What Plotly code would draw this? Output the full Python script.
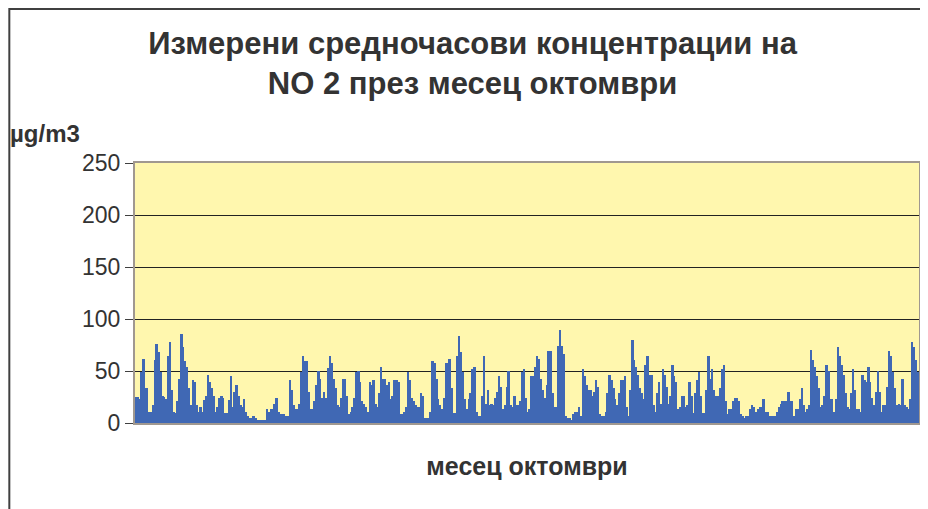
import plotly.graph_objects as go

# hourly NO2 readings in 8 chunks (left to right)
part1 = [25, 25, 23, 49, 62, 34, 34, 11, 11, 17, 61, 76, 68, 49, 26, 25, 23, 64, 78, 32,
         11, 10, 21, 42, 86, 73, 60, 54, 34, 17, 41, 39, 17, 11, 15, 11, 22, 26, 46, 39,
         34, 26, 11, 15, 24, 26, 24, 10, 10, 22, 45]
part2 = [15, 30, 37, 26, 17, 15, 23, 11, 7, 5, 5, 7, 5, 3, 3, 3, 3, 3, 13, 11,
         13, 13, 18, 24, 11, 9, 9, 9, 7, 7, 41, 32, 17, 13, 13, 18, 49, 64, 60, 60,
         30, 13, 13, 21, 37, 50, 42, 24, 30, 24, 53]
part3 = [64, 58, 42, 34, 17, 15, 24, 42, 42, 26, 9, 11, 15, 24, 49, 50, 39, 21, 18, 15,
         11, 39, 37, 41, 18, 15, 29, 54, 42, 42, 37, 39, 23, 26, 41, 41, 39, 9, 9, 11,
         15, 49, 41, 24, 21, 17, 15, 15, 29, 26, 5, 5, 5, 11]
part4 = [60, 58, 42, 23, 17, 13, 24, 58, 58, 62, 34, 10, 10, 64, 84, 68, 49, 23, 13, 23,
         29, 52, 54, 11, 7, 7, 26, 64, 18, 32, 17, 18, 17, 24, 30, 45, 35, 13, 17, 35,
         50, 17, 15, 26, 17, 17, 21, 49, 52, 24, 11, 13, 45]
part5 = [45, 54, 64, 62, 42, 32, 24, 37, 69, 69, 29, 15, 15, 74, 89, 74, 66, 7, 5, 5,
         3, 9, 11, 11, 15, 7, 52, 45, 37, 32, 32, 26, 30, 41, 35, 9, 7, 7, 11, 29,
         46, 41, 34, 23, 17, 29, 41, 41, 45, 15, 7]
part6 = [32, 80, 61, 54, 46, 34, 29, 23, 56, 64, 46, 46, 17, 11, 29, 39, 18, 52, 46, 35,
         18, 26, 56, 45, 39, 13, 15, 26, 26, 15, 17, 39, 26, 10, 29, 41, 49, 26, 10, 10,
         32, 64, 42, 52, 32, 26, 26, 34, 52, 56, 21, 9, 13]
part7 = [13, 21, 24, 24, 21, 9, 7, 5, 7, 7, 13, 17, 15, 11, 13, 15, 15, 23, 11, 11,
         7, 7, 7, 7, 11, 15, 18, 21, 21, 21, 30, 21, 21, 7, 13, 13, 23, 34, 17, 11,
         13, 17, 70, 61, 54, 45, 34, 15, 17, 26, 56, 50, 23]
part8 = [23, 11, 23, 73, 64, 56, 46, 29, 15, 13, 29, 52, 32, 13, 13, 11, 46, 41, 39, 54,
         39, 24, 17, 30, 50, 30, 11, 17, 17, 35, 69, 64, 49, 34, 17, 18, 17, 42, 17, 15,
         13, 23, 78, 73, 61, 49]

no2 = part1 + part2 + part3 + part4 + part5 + part6 + part7 + part8
hours = list(range(1, len(no2) + 1))
y_ticks = [0, 50, 100, 150, 200, 250]

fig = go.Figure()

fig.add_trace(go.Bar(
    x=hours,
    y=no2,
    marker=dict(color='#4068B4', line=dict(width=0)),
    showlegend=False
))

# outer frame of the chart (right/bottom run off the picture)
fig.add_shape(type='rect', xref='paper', yref='paper',
              x0=-0.1603, x1=1.2, y0=-0.6, y1=1.592,
              line=dict(color='#404040', width=2), layer='below')

# page has an 8px body margin, so the figure is 8px smaller than the window
fig.update_layout(
    width=920,
    height=501,
    margin=dict(l=127, r=7, t=155, b=86),
    paper_bgcolor='white',
    plot_bgcolor='#FFF7AE',
    bargap=0,
    font=dict(family='Liberation Sans, Arial', color='#333333'),
    title=dict(
        text='<b>Измерени средночасови концентрации на<br>NO 2 през месец октомври</b>',
        font=dict(size=31, color='#333333', family='Liberation Sans, Arial'),
        x=0.505, xanchor='center', xref='container',
        y=0.909, yanchor='top', yref='container'
    ),
    xaxis=dict(
        range=[0.5, len(no2) + 0.5],
        showticklabels=False,
        ticks='',
        showgrid=False,
        zeroline=False,
        showline=True, linecolor='#A09890', linewidth=2, mirror=True,
        title=dict(text='<b>месец октомври</b>', font=dict(size=25), standoff=33)
    ),
    yaxis=dict(
        range=[0, 250],
        tickvals=y_ticks,
        ticks='outside', ticklen=8, tickcolor='#404040',
        tickfont=dict(size=23, color='#333333'),
        showgrid=True, gridcolor='#222222', gridwidth=1,
        zeroline=False,
        showline=True, linecolor='#A09890', linewidth=2, mirror=True
    ),
    annotations=[dict(
        text='<b>µg/m3</b>', xref='paper', yref='paper',
        x=-0.1616, y=1.115, xanchor='left', yanchor='middle',
        showarrow=False, font=dict(size=24, color='#333333')
    )]
)

fig.write_html("out.html")
